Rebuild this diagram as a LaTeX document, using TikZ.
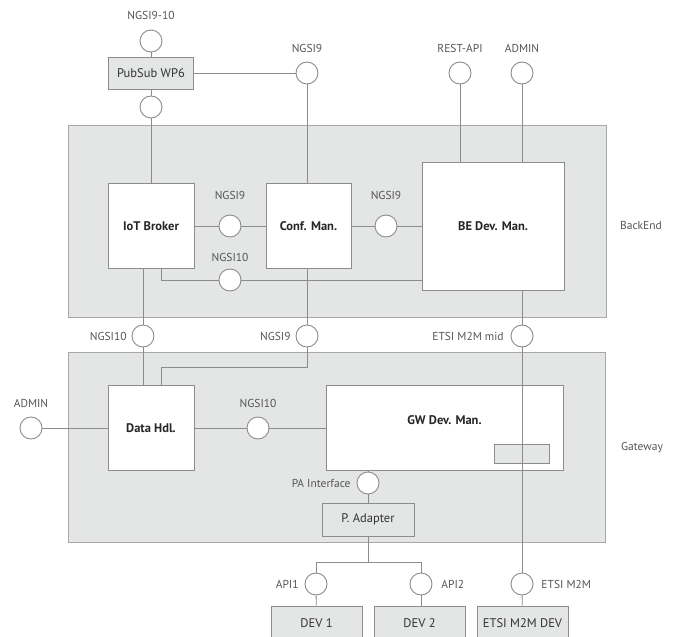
\documentclass[tikz,border=0pt]{standalone}
\usepackage{fontspec}
\setmainfont{PT Sans}
\definecolor{panelfill}{HTML}{E4E6E5}
\definecolor{panelline}{HTML}{A8A8A8}
\definecolor{wireline}{HTML}{8C8C8C}
\definecolor{labeltext}{HTML}{555555}
\tikzset{
  every picture/.style={line width=0.9pt},
  wire/.style={draw=wireline},
  panel/.style={draw=panelline, fill=panelfill},
  iface/.style={circle, draw=wireline, fill=white, minimum size=22pt, inner sep=0pt},
  comptext/.style={font=\bfseries\fontsize{12.5}{14}\selectfont, text=black!85},
  comp/.style={rectangle, draw=wireline, fill=white, comptext, inner sep=0pt},
  gbox/.style={rectangle, draw=wireline, fill=panelfill, font=\fontsize{12.5}{14}\selectfont, text=black!80, inner sep=0pt},
  lbl/.style={font=\fontsize{11.5}{13}\selectfont, text=labeltext, inner sep=0pt},
}

\begin{document}
\begin{tikzpicture}[x=1pt, y=-1pt]
        \useasboundingbox (0,0) rectangle (675,637);
        % panels
        \draw[panel] (68,125) rectangle (606,317);
        \draw[panel] (68,352) rectangle (605,542);
        \node[lbl] (backend) at (641,225) {BackEnd};
        \node[lbl] (gateway) at (642,448) {Gateway};
        % top
        \node[gbox, minimum width=85pt, minimum height=32pt] (pubsub) at (151,73) {PubSub WP6};
        \node[iface] (ngsitop) at (151,41) {};
        \node[lbl] (ngsitoplbl) at (151,15) {NGSI9-10};
        \node[iface] (pslow) at (151,107) {};
        \node[iface] (cmtop) at (307,73) {};
        \node[lbl] (cmtoplbl) at (307,48) {NGSI9};
        \node[iface] (rest) at (460,73) {};
        \node[lbl] (restlbl) at (460,48) {REST-API};
        \node[iface] (beadmin) at (522,73) {};
        \node[lbl] (beadminlbl) at (522,48) {ADMIN};
        % backend
        \node[comp, minimum width=86pt, minimum height=85pt] (iot) at (151,226) {IoT Broker};
        \node[comp, minimum width=85pt, minimum height=85pt] (conf) at (308.5,226) {Conf. Man.};
        \node[comp, minimum width=142pt, minimum height=128pt] (bedm) at (493,226) {BE Dev. Man.};
        \node[iface] (iotconf) at (230,226) {};
        \node[lbl] (iotconflbl) at (230,195) {NGSI9};
        \node[iface] (confbe) at (386,226) {};
        \node[lbl] (confbelbl) at (386,195) {NGSI9};
        \node[iface] (iotbe) at (230,280) {};
        \node[lbl] (iotbelbl) at (230,257) {NGSI10};
        % between the panels
        \node[iface] (dhup) at (143,336) {};
        \node[lbl, anchor=east] (dhuplbl) at (127,336) {NGSI10};
        \node[iface] (dhconf) at (307,336) {};
        \node[lbl, anchor=east] (dhconflbl) at (291,336) {NGSI9};
        \node[iface] (etsimid) at (522,336) {};
        \node[lbl, anchor=east] (etsimidlbl) at (504,336) {ETSI M2M mid};
        % gateway
        \node[comp, minimum width=86pt, minimum height=85pt] (dh) at (151,428) {Data Hdl.};
        \node[comp, minimum width=237pt, minimum height=85pt,
              label={[comptext, yshift=8pt]center:GW Dev. Man.}] (gwdm) at (444.5,428) {};
        \node[gbox, minimum width=55pt, minimum height=19pt] (gwport) at (521.5,453.5) {};
        \node[iface] (dhadmin) at (31,428) {};
        \node[lbl] (dhadminlbl) at (31,403) {ADMIN};
        \node[iface] (dhgw) at (258,428) {};
        \node[lbl] (dhgwlbl) at (258,403) {NGSI10};
        \node[iface] (pa) at (368,483) {};
        \node[lbl, anchor=east] (palbl) at (351,483) {PA Interface};
        \node[gbox, minimum width=92pt, minimum height=33pt] (padapt) at (368,519.5) {P. Adapter};
        % devices
        \node[iface] (api1) at (316,584) {};
        \node[lbl, anchor=east] (api1lbl) at (299,584) {API1};
        \node[iface] (api2) at (421,584) {};
        \node[lbl, anchor=west] (api2lbl) at (441,584) {API2};
        \node[iface] (etsi) at (522,584) {};
        \node[lbl, anchor=west] (etsilbl) at (541,584) {ETSI M2M};
        \node[gbox, minimum width=91pt, minimum height=34pt] (dev1) at (316.5,623) {DEV 1};
        \node[gbox, minimum width=91pt, minimum height=34pt] (dev2) at (419.5,623) {DEV 2};
        \node[gbox, minimum width=91pt, minimum height=34pt] (etsidev) at (522.5,623) {ETSI M2M DEV};
        % connectors
        \draw[wire] (ngsitop) -- (pubsub);
        \draw[wire] (pubsub) -- (pslow);
        \draw[wire] (pslow) -- (iot);
        \draw[wire] (pubsub) -- (cmtop);
        \draw[wire] (cmtop) -- (cmtop |- conf.north);
        \draw[wire] (rest) -- (rest |- bedm.north);
        \draw[wire] (beadmin) -- (beadmin |- bedm.north);
        \draw[wire] (iot) -- (iotconf) -- (conf) -- (confbe) -- (bedm);
        \draw[wire] ([xshift=10pt]iot.south) |- (iotbe.west);
        \draw[wire] (iotbe.east) -- (iotbe -| bedm.west);
        \draw[wire] ([xshift=-8pt]iot.south) -- (dhup);
        \draw[wire] (dhup) -- (dhup |- dh.north);
        \draw[wire] (conf.south -| dhconf) -- (dhconf);
        \draw[wire] (dhconf) -- ++(0,31) -| ([xshift=10pt]dh.north);
        \draw[wire] (bedm.south -| etsimid) -- (etsimid);
        \draw[wire] (etsimid) -- (etsi);
        \draw[wire] (etsi) -- (etsidev);
        \draw[wire] (dhadmin) -- (dh);
        \draw[wire] (dh) -- (dhgw) -- (gwdm);
        \draw[wire] (gwdm.south -| pa) -- (pa) -- (padapt);
        \draw[wire] (padapt.south) -- ++(0,26) coordinate (bus);
        \draw[wire] (api1.north) |- (bus) -| (api2.north);
        \draw[wire] (api1) -- (dev1);
        \draw[wire] (api2) -- (api2 |- dev2.north);
\end{tikzpicture}
\end{document}
